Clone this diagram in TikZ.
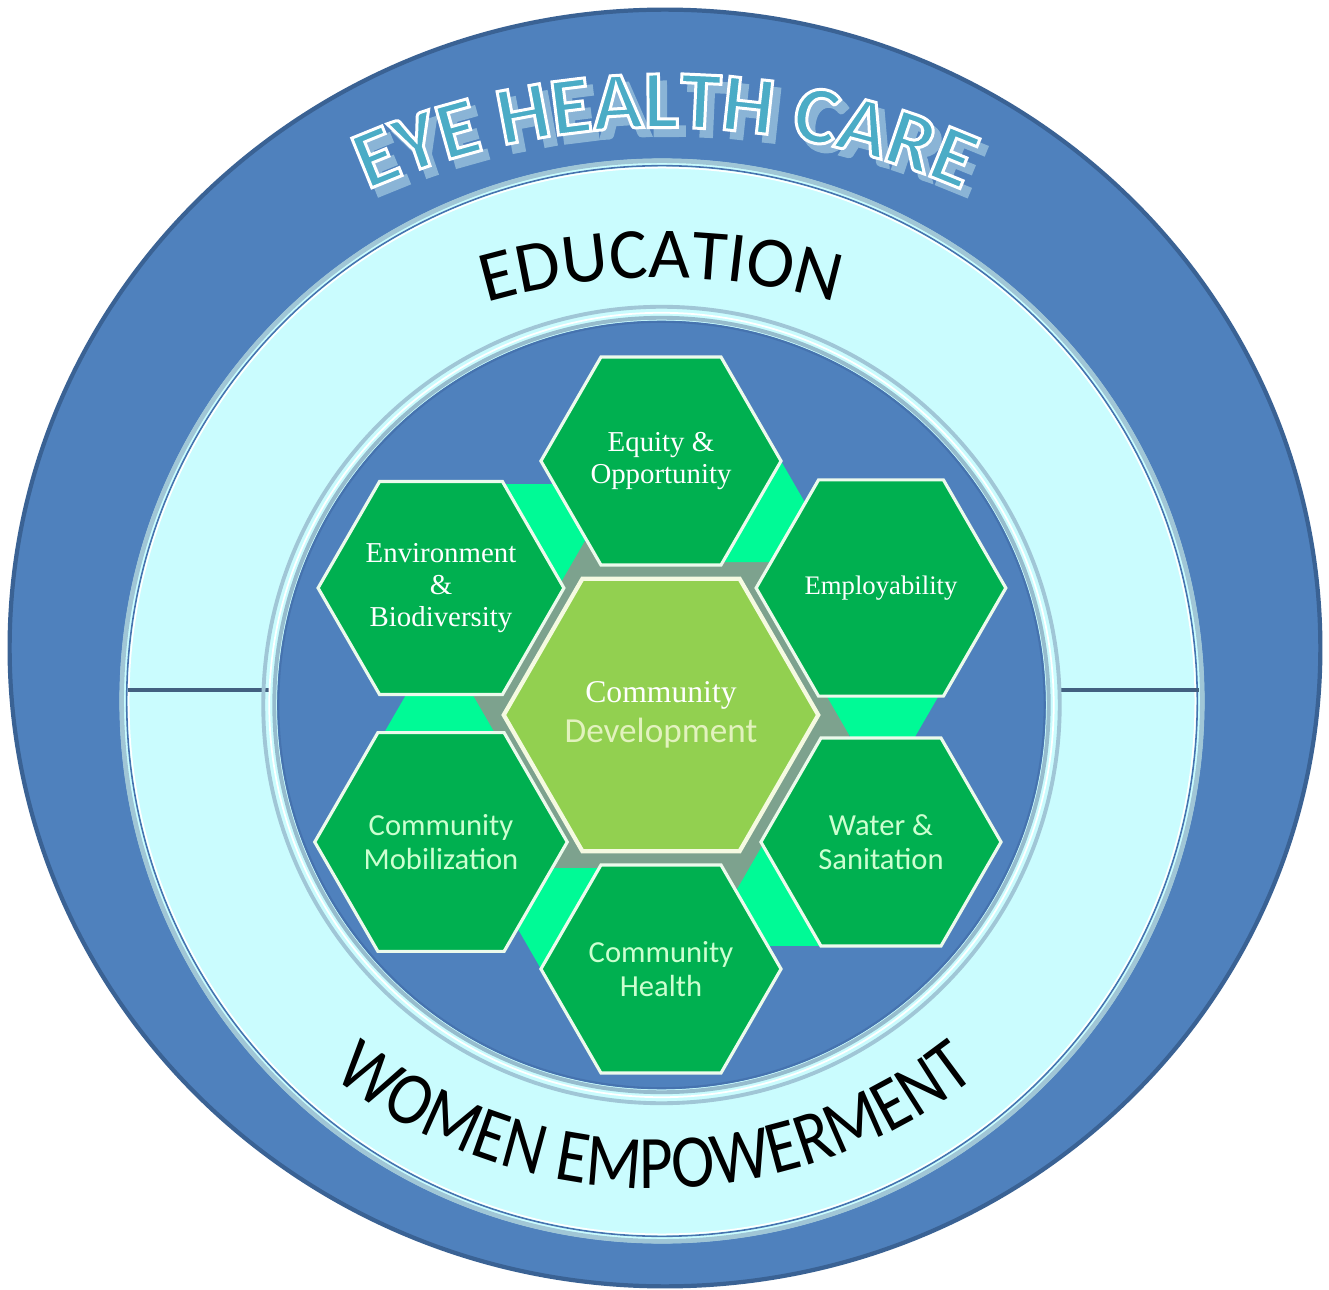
\documentclass[tikz,border=0pt]{standalone}
\usepackage{fontspec}
\setmainfont{Liberation Serif}
\newfontfamily\calib{Carlito}
\newfontfamily\calibo[BoldFeatures={FakeBold=3.6}]{Carlito}
\newfontfamily\calibn[FakeStretch=0.86]{Carlito}
\usetikzlibrary{shapes.geometric,decorations.text}
\definecolor{mainblue}{RGB}{79,129,189}
\definecolor{edgeblue}{RGB}{58,98,148}
\definecolor{ringcyan}{RGB}{202,252,254}
\definecolor{bevelA}{RGB}{160,198,214}
\definecolor{bevelB}{RGB}{150,188,205}
\definecolor{lineblue}{RGB}{70,115,175}
\definecolor{divline}{RGB}{66,96,128}
\definecolor{hexgreen}{RGB}{0,176,80}
\definecolor{centergreen}{RGB}{146,208,80}
\definecolor{hexborder}{RGB}{236,250,236}
\definecolor{cream}{RGB}{245,250,225}
\definecolor{spring}{RGB}{0,250,150}
\definecolor{grayring}{RGB}{125,162,142}
\definecolor{tealtxt}{RGB}{75,172,198}
\definecolor{shadowblue}{RGB}{138,180,214}
\definecolor{labelgreen}{RGB}{204,255,208}
\definecolor{devcolor}{RGB}{226,242,190}
% bold Carlito, stroked: fill teal, stroke white -> outlined letters
\newcommand\eyefont{\calibo\bfseries\fontsize{23.5}{28}\selectfont}
\newcommand\whitestroke{\special{pdf:literal direct 1 1 1 RG}}
\newcommand\edufont{\calib\fontsize{20.5}{24}\selectfont}
\newcommand\womfont{\calibn\fontsize{21.5}{25}\selectfont}
\begin{document}
\begin{tikzpicture}[x=0.01cm,y=0.01cm,
  hexo/.style={regular polygon, regular polygon sides=6, minimum size=2.4cm,
    inner sep=0pt, fill=hexgreen, draw=hexborder, line width=0.9pt, align=center},
  hexc/.style={regular polygon, regular polygon sides=6, minimum size=2.92cm,
    inner sep=0pt, fill=centergreen, draw=cream, line width=1.2pt, align=center},
  hexg/.style={regular polygon, regular polygon sides=6, minimum size=4.0cm,
    inner sep=0pt, fill=grayring},
  serifl/.style={text=white, font=\fontsize{8.2}{9.1}\selectfont},
  sansl/.style={text=labelgreen, font=\calib\fontsize{8.7}{9.8}\selectfont},
  piece/.style={fill=spring}
]
\useasboundingbox (-661,-575) rectangle (668,715);
\fill[white] (-661,-575) rectangle (668,715);

% outer blue disk
\fill[mainblue, draw=edgeblue, line width=1.2pt] (4,67) ellipse [x radius=6.55cm, y radius=6.38cm];

% light ring
\fill[ringcyan] (1,14) circle [radius=5.42cm];
\draw[bevelA, line width=1.3pt] (1,14) circle [radius=5.40cm];
\draw[lineblue, line width=0.45pt] (1,14) circle [radius=5.35cm];
\draw[white, line width=0.45pt] (1,14) circle [radius=5.33cm];

% dividers
\draw[divline, line width=1.1pt] (-533,25) -- (-392,25);
\draw[divline, line width=1.1pt] (397,25) -- (538,25);

% inner blue disk with bevel
\draw[bevelA, line width=1.1pt] (0.5,10) circle [radius=3.98cm];
\draw[white, line width=0.5pt] (0.5,10) circle [radius=3.92cm];
\draw[bevelB, line width=1.1pt] (0.5,10) circle [radius=3.87cm];
\fill[mainblue] (0.5,10) circle [radius=3.84cm];
\draw[lineblue, line width=0.6pt] (0.5,10) circle [radius=3.83cm];

% gray hexagon behind centre
\node[hexg] (grayhex) at (0,0) {};

% bright green connector pieces (pinwheel)
\foreach \a in {0,60,...,300}{
  \fill[piece, rotate=\a] (120,254) -- (160,184.7) -- (175,153) -- (40,153) -- (40,254) -- cycle;
}

% hexagons
\node[hexc] (center) at (0,0) {\fontsize{9}{10.2}\selectfont\color{white}Community\\[-0.5pt]{\calib\color{devcolor}Development}};
\node[hexo, serifl] (equity) at (0,254) {Equity \&\\Opportunity};
\node[hexo] (employ) at (220,127) {\color{white}\fontsize{7.6}{9}\selectfont Employability};
\node[hexo, serifl] (environ) at (-220,127) {Environment\\\&\\Biodiversity};
\node[hexo, sansl] (mobil) at (-220,-127) {Community\\Mobilization};
\node[hexo, sansl] (water) at (220,-127) {Water \&\\Sanitation};
\node[hexo, sansl] (health) at (0,-254) {Community\\Health};

% EYE HEALTH CARE: soft shadow, then teal letters with white outline
\path[shift={(7,-8)}, decorate, decoration={text along path, text align=center,
  text={|\eyefont\color{shadowblue}|EYE HEALTH CARE}}]
  (4,-154) ++(140:7.41cm) arc [start angle=140, end angle=40, radius=7.41cm];
\path[decorate, decoration={text along path, text align=center,
  text={|\eyefont\color{tealtxt}\whitestroke|EYE HEALTH CARE}}]
  (4,-154) ++(140:7.41cm) arc [start angle=140, end angle=40, radius=7.41cm];

% EDUCATION
\path[decorate, decoration={text along path, text align=center,
  text={|\edufont\color{black}|EDUCATION}}]
  (0,-183) ++(125:6.2cm) arc [start angle=125, end angle=55, radius=6.2cm];

% WOMEN EMPOWERMENT
\path[decorate, decoration={text along path, text align=center,
  text={|\womfont\color{black}|WOMEN EMPOWERMENT}}]
  (-6,47) ++(205:5.2cm) arc [start angle=205, end angle=335, radius=5.2cm];
\end{tikzpicture}
\end{document}
